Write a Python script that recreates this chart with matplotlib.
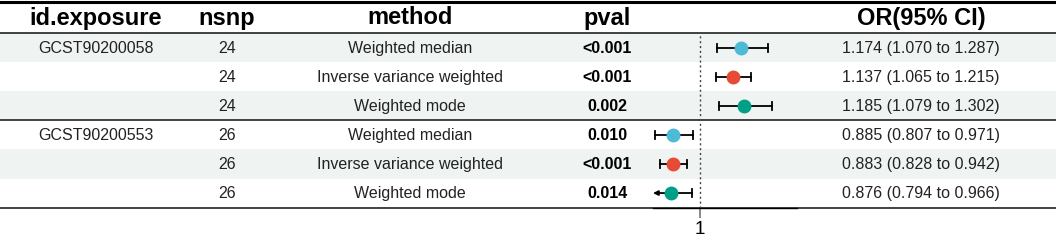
import matplotlib.pyplot as plt
from matplotlib.patches import Rectangle

plt.rcParams['font.family'] = ['Liberation Sans', 'DejaVu Sans']

exposure = ["GCST90200058", "", "", "GCST90200553", "", ""]
nsnp = [24, 24, 24, 26, 26, 26]
method = ["Weighted median", "Inverse variance weighted", "Weighted mode",
          "Weighted median", "Inverse variance weighted", "Weighted mode"]
pval = ["<0.001", "<0.001", "0.002", "0.010", "<0.001", "0.014"]
or_est = [1.174, 1.137, 1.185, 0.885, 0.883, 0.876]
or_lo = [1.070, 1.065, 1.079, 0.807, 0.828, 0.794]
or_hi = [1.287, 1.215, 1.302, 0.971, 0.942, 0.966]
colors = ["#4DBBD5", "#E64B35", "#00A087", "#4DBBD5", "#E64B35", "#00A087"]
headers = ["id.exposure", "nsnp", "method", "pval", "", "OR(95% CI)"]

W, H = 1056, 240
fig = plt.figure(figsize=(W / 100, H / 100), dpi=100)
ax = fig.add_axes([0, 0, 1, 1])
ax.set_xlim(0, W)
ax.set_ylim(H, 0)
ax.axis('off')

head_h = 33
row_h = 29.1
row_y = [head_h + row_h * (i + 0.5) for i in range(6)]
bottom = head_h + row_h * 6

# shaded rows
for i in range(6):
    if i % 2 == 0:
        ax.add_patch(Rectangle((0, head_h + row_h * i), W, row_h,
                               facecolor="#eff3f2", edgecolor="none", zorder=0))

col_x = [96, 227, 410, 607, 720, 921]
for x, h in zip(col_x, headers):
    ax.text(x, 18, h, ha='center', va='center', fontsize=17, fontweight='bold')

for i in range(6):
    y = row_y[i] + 0.5
    ax.text(col_x[0], y, exposure[i], ha='center', va='center', fontsize=11.5, color='#222222')
    ax.text(col_x[1], y, str(nsnp[i]), ha='center', va='center', fontsize=11.5, color='#222222')
    ax.text(col_x[2], y, method[i], ha='center', va='center', fontsize=11.5, color='#222222')
    ax.text(col_x[3], y, pval[i], ha='center', va='center', fontsize=11.5, fontweight='bold')
    txt = f"{or_est[i]:.3f} ({or_lo[i]:.3f} to {or_hi[i]:.3f})"
    ax.text(col_x[5], y, txt, ha='center', va='center', fontsize=11.5, color='#222222')

ax.plot([0, W], [1.5, 1.5], color='black', lw=2.2)
ax.plot([0, W], [head_h, head_h], color='#333333', lw=1.3)
ax.plot([0, W], [head_h + row_h * 3, head_h + row_h * 3], color='#333333', lw=1.3)
ax.plot([0, W], [bottom, bottom], color='#333333', lw=1.3)

# forest panel
x0, x1 = 0.8, 1.41
px0, px1 = 653, 797
fx = fig.add_axes([px0 / W, (H - bottom) / H, (px1 - px0) / W, (bottom - head_h) / H])
fx.set_xlim(x0, x1)
fx.set_ylim(bottom, head_h)
fx.patch.set_alpha(0)
for s in ['top', 'right', 'left']:
    fx.spines[s].set_visible(False)
fx.spines['bottom'].set_linewidth(1.0)
fx.set_yticks([])
fx.set_xticks([1])
fx.set_xticklabels(["1"], fontsize=13.5)
fx.tick_params(axis='x', length=7, width=1.2, pad=3, color='#777777')
fx.axvline(1, color='#444444', lw=1.0, ls=(0, (1.5, 2)), zorder=1)

for i in range(6):
    y = row_y[i]
    lo = max(or_lo[i], x0)
    if or_lo[i] < x0:
        fx.annotate("", xy=(x0, y), xytext=(or_est[i], y),
                    arrowprops=dict(arrowstyle='-|>', color='black', lw=1.3,
                                    mutation_scale=7, shrinkA=0, shrinkB=0))
        fx.plot([or_est[i], or_hi[i]], [y, y], color='black', lw=1.3)
        fx.plot([or_hi[i], or_hi[i]], [y - 4, y + 4], color='black', lw=1.3)
    else:
        fx.plot([lo, or_hi[i]], [y, y], color='black', lw=1.3)
        fx.plot([lo, lo], [y - 4, y + 4], color='black', lw=1.3)
        fx.plot([or_hi[i], or_hi[i]], [y - 4, y + 4], color='black', lw=1.3)
    fx.plot(or_est[i], y, 'o', color=colors[i], markersize=9, zorder=3)

fig.savefig("out.png", dpi=100)
